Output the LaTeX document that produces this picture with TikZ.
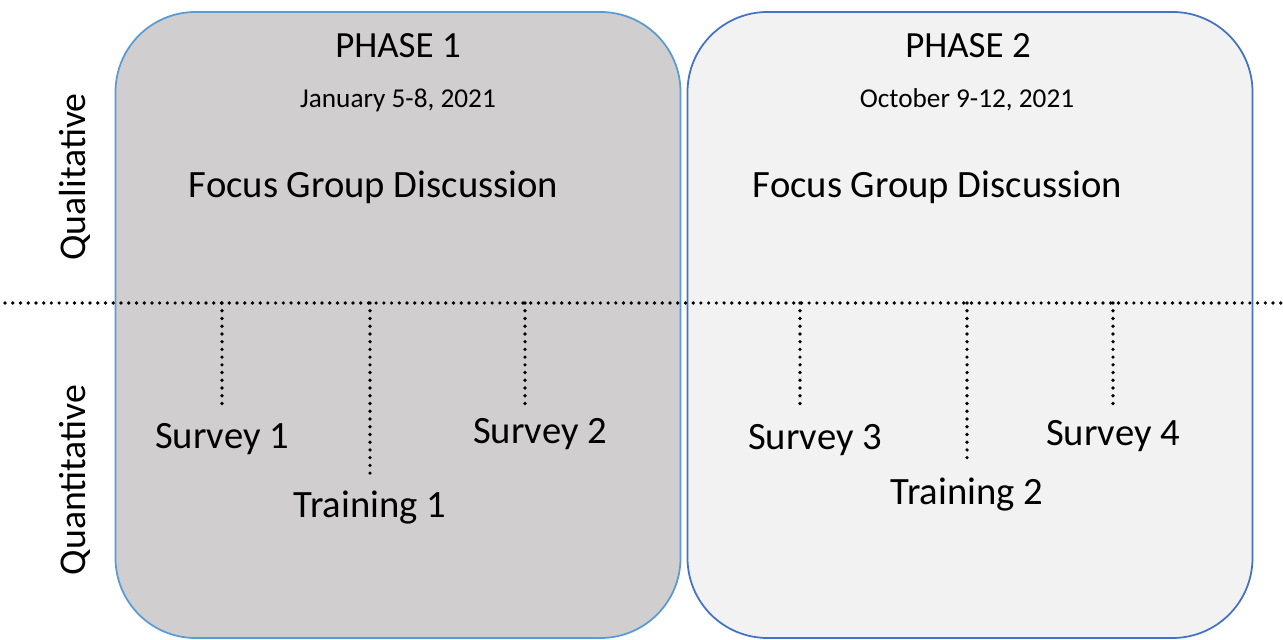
\documentclass[tikz,border=0pt]{standalone}
\usepackage{fontspec}
\setmainfont{Carlito}
\usepackage{xcolor}
\usetikzlibrary{positioning,calc}
\definecolor{boxgray}{HTML}{D0CECE}
\definecolor{boxlight}{HTML}{F2F2F2}
\definecolor{edgeA}{HTML}{5B9BD5}
\definecolor{edgeB}{HTML}{4472C4}
\tikzset{
  Pbox/.style={draw, line width=1pt, rounded corners=1.6cm,
               minimum width=11.3cm, minimum height=12.52cm, inner sep=0pt},
  Ptitle/.style={font=\fontsize{21}{25}\selectfont},
  Pdate/.style={font=\fontsize{15.5}{18}\selectfont},
  Item/.style={font=\fontsize{22}{26}\selectfont, inner sep=2pt},
  Side/.style={font=\fontsize{21.5}{25}\selectfont, rotate=90},
  Dline/.style={line width=2.1pt, line cap=round, dash pattern=on 0pt off 4.4pt},
  Tick/.style={Dline, shorten >=0.2cm}
}

\begin{document}
\begin{tikzpicture}
  \useasboundingbox (0,0) rectangle (25.66,-12.8);

  % the two phases
  \node[Pbox, fill=boxgray, draw=edgeA] (p1) at (7.96,-6.5) {};
  \node[Pbox, fill=boxlight, draw=edgeB] (p2) at (19.4,-6.5) {};

  \node[Ptitle] (t1) at (7.96,-0.92) {PHASE 1};
  \node[Pdate]  (d1) at (7.96,-2.0) {January 5-8, 2021};
  \node[Ptitle] (t2) at (19.36,-0.92) {PHASE 2};
  \node[Pdate]  (d2) at (19.34,-2.0) {October 9-12, 2021};

  \node[Item, anchor=west] (f1) at (3.7,-3.74) {Focus Group Discussion};
  \node[Item, anchor=west] (f2) at (14.98,-3.74) {Focus Group Discussion};

  % side labels
  \node[Side] (qual) at (1.5,-3.54) {Qualitative};
  \node[Side] (quan) at (1.5,-9.6) {Quantitative};

  % divider between the two parts
  \coordinate (axL) at (0.1,-6.06);
  \coordinate (axR) at (25.66,-6.06);
  \draw[Dline] (axL) -- (axR);

  % surveys and trainings
  \node[Item] (s1) at (4.44,-8.78) {Survey 1};
  \node[Item] (tr1) at (7.4,-10.16) {Training 1};
  \node[Item] (s2) at (10.8,-8.68) {Survey 2};
  \node[Item] (s3) at (16.3,-8.8) {Survey 3};
  \node[Item] (tr2) at (19.34,-9.9) {Training 2};
  \node[Item] (s4) at (22.26,-8.72) {Survey 4};

  \draw[Tick] (s1.north |- axL) -- (s1.north);
  \draw[Tick] (tr1.north |- axL) -- (tr1.north);
  \draw[Tick] ([xshift=-0.3cm]s2.north |- axL) -- ([xshift=-0.3cm]s2.north);
  \draw[Tick] ([xshift=-0.3cm]s3.north |- axL) -- ([xshift=-0.3cm]s3.north);
  \draw[Tick] (tr2.north |- axL) -- (tr2.north);
  \draw[Tick] (s4.north |- axL) -- (s4.north);
\end{tikzpicture}
\end{document}
